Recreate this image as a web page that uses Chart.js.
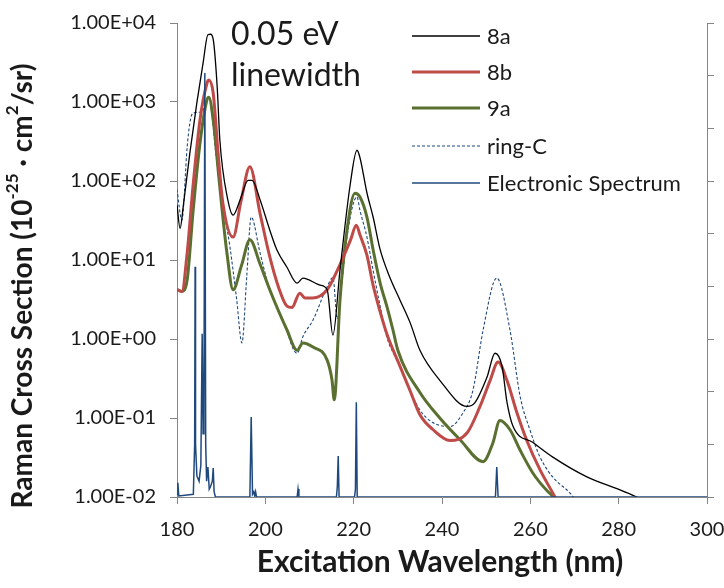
<!DOCTYPE html>
<html><head><meta charset="utf-8">
<script src="https://cdn.jsdelivr.net/npm/chart.js@4.4.0/dist/chart.umd.min.js"></script>
<style>html,body{margin:0;padding:0;background:#fff}#wrap{width:724px;height:588px;position:relative}</style>
</head><body><div id="wrap"><canvas id="c" width="724" height="588"></canvas></div>
<script>
// ---- data (wavelength nm / Raman cross section) ----
const wl8a = [180.0,180.7,181.4,182.9,184.5,185.9,187.0,187.6,188.2,189.1,189.7,191.5,192.7,194.3,196.1,197.0,198.8,201.0,202.6,204.9,207.2,208.5,212.4,214.0,215.3,216.9,219.2,220.75,221.4,223.0,224.4,226.0,228.2,230.5,232.8,235.0,239.5,245.7,247.4,250.2,252.0,253.6,254.7,256.1,260.6,265.1,272.8,280.3,284.1,286.0];
const val8a = [50,25,47,224,980,3100,7100,7200,6200,1550,330,58,37,58,102,102,58,24,13.5,8.1,5.1,5.9,4.8,4.2,1.12,7.4,89,245,200,71,35,13.5,6.0,3.1,1.6,0.72,0.30,0.14,0.155,0.33,0.66,0.45,0.16,0.078,0.049,0.032,0.018,0.0123,0.0100,0.0089];

const wl8b = [180.0,181.1,182.3,183.6,185.2,186.8,187.2,188.2,189.3,190.4,192.7,194.5,196.5,198.8,201.0,203.0,204.9,206.0,207.8,209.0,210.7,214.0,216.3,219.3,220.6,221.4,223.0,224.4,226.0,227.6,230.5,232.8,235.0,238.0,241.8,245.7,248.6,250.9,252.7,254.7,257.0,259.2,262.2,265.1,266.5];
const val8b = [4.2,4.0,12.3,83,590,1740,1900,1290,224,52,19.5,56,151,39,11,4.5,2.6,2.5,3.8,3.3,3.3,4.2,7.4,18,27.5,21,11.5,4.8,2.2,1.12,0.45,0.22,0.11,0.071,0.052,0.065,0.14,0.30,0.51,0.30,0.115,0.052,0.022,0.0112,0.008];

const wl9a = [180.0,181.1,182.3,183.6,185.2,186.8,187.2,188.2,189.7,191.3,192.7,194.6,196.5,198.8,201.0,204.9,207.2,208.5,210.8,214.0,215.1,215.6,216.9,218.5,220.3,221.4,223.0,224.4,226.0,227.5,228.9,230.0,235.0,239.5,244.1,249.3,251.5,253.1,255.4,257.7,260.6,263.8,266.0];
const val9a = [4.2,4.0,5.6,39,300,1070,1150,590,83,12.3,4.2,8.5,18,8.9,4.2,1.3,0.72,0.89,0.79,0.54,0.30,0.17,3.1,24,70,63,35,13.5,5.1,2.6,1.3,0.72,0.21,0.10,0.053,0.028,0.048,0.093,0.071,0.039,0.020,0.012,0.0093];

const wlRingC = [180.0,181.1,182.3,182.9,183.6,185.0,185.7,186.5,187.3,188.0,188.7,189.7,191.0,192.0,193.5,194.7,195.8,196.8,198.8,201.0,204.0,207.2,208.5,210.8,214.0,215.3,216.3,217.3,218.5,220.75,221.4,223.0,224.4,226.0,227.5,230.5,232.8,235.0,238.0,241.8,244.7,247.0,249.3,252.4,255.4,257.7,259.9,262.2,265.1,269.0,271.0];
const valRingC = [78,32,269,537,724,741,741,1000,1120,631,251,83,32,14.5,3.2,0.89,6.3,35,12.3,4.2,1.74,0.66,1.07,1.74,4.6,6.0,1.8,5.0,20,63,43,19.5,7.4,2.6,1.07,0.45,0.22,0.126,0.087,0.078,0.115,0.224,1.29,5.9,1.29,0.186,0.071,0.032,0.0178,0.0112,0.008];

const wlElec = [180.0,180.2,180.4,183.7,184.0,184.1,184.2,184.5,185.0,185.4,185.7,185.9,186.1,186.3,186.5,186.7,187.0,187.3,187.6,188.0,188.2,188.4,188.7,196.5,196.8,197.1,197.4,197.6,197.8,198.0,207.2,207.4,207.6,216.1,216.3,216.5,216.7,220.2,220.4,220.6,220.8,252.1,252.4,252.7,300.0];
const valElec = [0.05,0.27,0.02,0.05,1.0,4.37,1.0,0.4,0.3,0.6,3.1,1.2,1.5,8.05,1.0,0.3,0.57,0.15,0.2,0.3,0.55,0.1,0.0,0.0,1.52,0.05,0.1,0.02,0.1,0.0,0.0,0.15,0.0,0.0,0.2,0.78,0.0,0.0,0.15,1.8,0.0,0.0,0.57,0.0,0.0];

const seriesNames = ['8a','8b','9a','ring-C','Electronic Spectrum'];
const yTickValues = [0.01,0.1,1,10,100,1000,10000];
const yTickLabels = ['1.00E-02','1.00E-01','1.00E+00','1.00E+01','1.00E+02','1.00E+03','1.00E+04'];
const xTickValues = [180,200,220,240,260,280,300];
const noteLines = ['0.05 eV','linewidth'];
const xTitle = 'Excitation Wavelength (nm)';
const yTitleParts = [['Raman Cross Section (10',0],['-25',1],[' \u00B7 cm',0],['2',1],['/sr)',0]];

const pts = (xs, ys) => xs.map((x,i)=>({x:x, y:ys[i]}));

const styles = [
  {color:'#000000', width:1.3, dash:[]},
  {color:'#BE4B48', width:3, dash:[]},
  {color:'#5A7030', width:3, dash:[]},
  {color:'#1F497D', width:1.1, dash:[3,2]},
  {color:'#1F497D', width:1.5, dash:[]}
];

const overlay = {
  id:'overlay',
  afterDraw(chart){
    const ctx = chart.ctx;
    ctx.save();
    ctx.fillStyle = '#1a1a1a';
    ctx.textBaseline = 'alphabetic';
    ctx.textAlign = 'left';
    ctx.font = '32px Lato';
    ctx.fillText(noteLines[0], 231, 45);
    ctx.fillText(noteLines[1], 231, 86);
    // legend
    const ly = [36,72,108,146,183];
    ctx.font = '22px Lato';
    ctx.textBaseline = 'middle';
    seriesNames.forEach((n,i)=>{
      const s = styles[i];
      ctx.beginPath();
      ctx.strokeStyle = s.color; ctx.lineWidth = s.width; ctx.setLineDash(s.dash);
      ctx.moveTo(412, ly[i]); ctx.lineTo(480, ly[i]); ctx.stroke();
      ctx.setLineDash([]);
      ctx.fillStyle = '#1a1a1a';
      ctx.fillText(n, 487, ly[i]+1);
    });
    // x title
    ctx.font = 'bold 30px Lato';
    ctx.textAlign = 'center';
    ctx.fillText(xTitle, 440, 562);
    // y title
    ctx.translate(23, 286);
    ctx.rotate(-Math.PI/2);
    const big = 'bold 28px Lato', small = 'bold 17px Lato';
    let total = 0;
    yTitleParts.forEach(p=>{ ctx.font = p[1]?small:big; total += ctx.measureText(p[0]).width; });
    let x = -total/2;
    ctx.textAlign = 'left';
    yTitleParts.forEach(p=>{
      ctx.font = p[1]?small:big;
      ctx.fillText(p[0], x, p[1]? -10 : 0);
      x += ctx.measureText(p[0]).width;
    });
    ctx.restore();
  }
};

const mk = (i, xs, ys, axis, order, mono) => ({
  label: seriesNames[i], data: pts(xs, ys), yAxisID: axis, order: order,
  borderColor: styles[i].color, borderWidth: styles[i].width, borderDash: styles[i].dash,
  pointRadius: 0, fill: false,
  cubicInterpolationMode: mono ? 'monotone' : 'default', tension: mono ? 0.4 : 0
});

new Chart(document.getElementById('c'), {
  type: 'line',
  data: { datasets: [
    mk(0, wl8a, val8a, 'y', 1, true),
    mk(1, wl8b, val8b, 'y', 2, true),
    mk(2, wl9a, val9a, 'y', 3, true),
    mk(3, wlRingC, valRingC, 'y', 4, true),
    mk(4, wlElec, valElec, 'y2', 0, false)
  ]},
  options: {
    responsive: false, animation: false, devicePixelRatio: 1,
    layout: { padding: { top: 23, left: 0, right: 0, bottom: 0 } },
    plugins: { legend: { display: false }, tooltip: { enabled: false } },
    scales: {
      x: { type: 'linear', min: 180, max: 300, position: 'bottom',
        afterBuildTicks(s){ s.ticks = xTickValues.map(v=>({value:v})); },
        ticks: { font: { family: 'Lato', size: 20 }, color: '#1a1a1a', padding: 14, maxRotation: 0, autoSkip: false },
        grid: { drawOnChartArea: false, drawTicks: true, tickLength: 7, color: '#868686', lineWidth: 1 },
        border: { display: true, color: '#868686', width: 1 },
        afterFit(s){ s.height = 91; s.paddingLeft = 0; s.paddingRight = 0; } },
      y: { type: 'logarithmic', min: 0.01, max: 10000, position: 'left',
        afterBuildTicks(s){ s.ticks = yTickValues.map(v=>({value:v})); },
        ticks: { callback: (v)=>{ const k = yTickValues.findIndex(t=>Math.abs(Math.log10(t)-Math.log10(v))<1e-6); return k>=0 ? yTickLabels[k] : ''; },
          font: { family: 'Lato', size: 20 }, color: '#1a1a1a', padding: 14, autoSkip: false },
        grid: { drawOnChartArea: false, drawTicks: true, tickLength: 7, color: '#868686', lineWidth: 1 },
        border: { display: true, color: '#868686', width: 1 },
        afterFit(s){ s.width = 177; s.paddingTop = 0; s.paddingBottom = 0; } },
      y2: { type: 'linear', min: 0, max: 9, position: 'right',
        ticks: { stepSize: 1, display: false },
        grid: { drawOnChartArea: false, drawTicks: true, tickLength: 7, color: '#868686', lineWidth: 1 },
        border: { display: true, color: '#868686', width: 1 },
        afterFit(s){ s.width = 17; s.paddingTop = 0; s.paddingBottom = 0; } }
    }
  },
  plugins: [overlay]
});
</script>
</body></html>
